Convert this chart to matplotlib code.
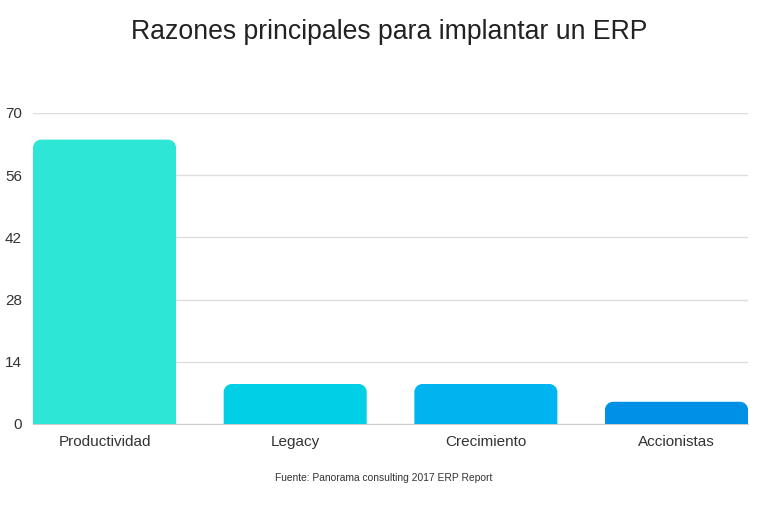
import numpy as np
import matplotlib.pyplot as plt
from matplotlib.path import Path
from matplotlib.patches import PathPatch

plt.rcParams['font.family'] = ['Liberation Sans', 'DejaVu Sans']

# Datos
categorias = ['Productividad', 'Legacy', 'Crecimiento', 'Accionistas']
valores = [64, 9, 9, 5]
colores = ['#2ee6d6', '#00cfe6', '#00b4f0', '#0091e6']
ticks_y = [0, 14, 28, 42, 56, 70]

fig = plt.figure(figsize=(7.68, 5.14), dpi=100)
ax = fig.add_axes([0.043, 0.1751, 0.931, 0.6051])

x = np.arange(len(categorias))
barras = ax.bar(x, valores, width=0.75, color=colores, zorder=3)
ax.set_xlim(-0.375, 3.375)
ax.set_ylim(0, 70)

# Esquinas superiores redondeadas
radio_px = 8
fig.canvas.draw()
px_x = ax.transData.transform((1, 0))[0] - ax.transData.transform((0, 0))[0]
px_y = ax.transData.transform((0, 1))[1] - ax.transData.transform((0, 0))[1]
rx = radio_px / px_x
ry = radio_px / px_y
for b, c in zip(barras, colores):
    x0, w, h = b.get_x(), b.get_width(), b.get_height()
    x1 = x0 + w
    k = 0.5523
    verts = [(x0, 0), (x0, h - ry),
             (x0, h - ry + k * ry), (x0 + rx - k * rx, h), (x0 + rx, h),
             (x1 - rx, h),
             (x1 - rx + k * rx, h), (x1, h - ry + k * ry), (x1, h - ry),
             (x1, 0), (x0, 0)]
    codes = [Path.MOVETO, Path.LINETO,
             Path.CURVE4, Path.CURVE4, Path.CURVE4,
             Path.LINETO,
             Path.CURVE4, Path.CURVE4, Path.CURVE4,
             Path.LINETO, Path.CLOSEPOLY]
    b.set_visible(False)
    ax.add_patch(PathPatch(Path(verts, codes), facecolor=c, edgecolor='none', zorder=3))

ax.set_yticks(ticks_y)
ax.set_yticklabels([str(t) for t in ticks_y], fontsize=11, color='#333333')
ax.set_xticks(x)
ax.set_xticklabels(categorias, fontsize=11, color='#333333')
ax.tick_params(axis='both', length=0)
ax.tick_params(axis='y', pad=8)
ax.tick_params(axis='x', pad=8)

ax.grid(axis='y', color='#dddddd', linewidth=1, zorder=0)
for s in ['top', 'right', 'left']:
    ax.spines[s].set_visible(False)
ax.spines['bottom'].set_color('#cccccc')

fig.text(0.5065, 0.938, 'Razones principales para implantar un ERP', ha='center', va='center',
         fontsize=19.2, color='#222222')
fig.text(0.5, 0.07, 'Fuente: Panorama consulting 2017 ERP Report', ha='center', va='center',
         fontsize=7.4, color='#333333')

fig.savefig('out.png', dpi=100)
